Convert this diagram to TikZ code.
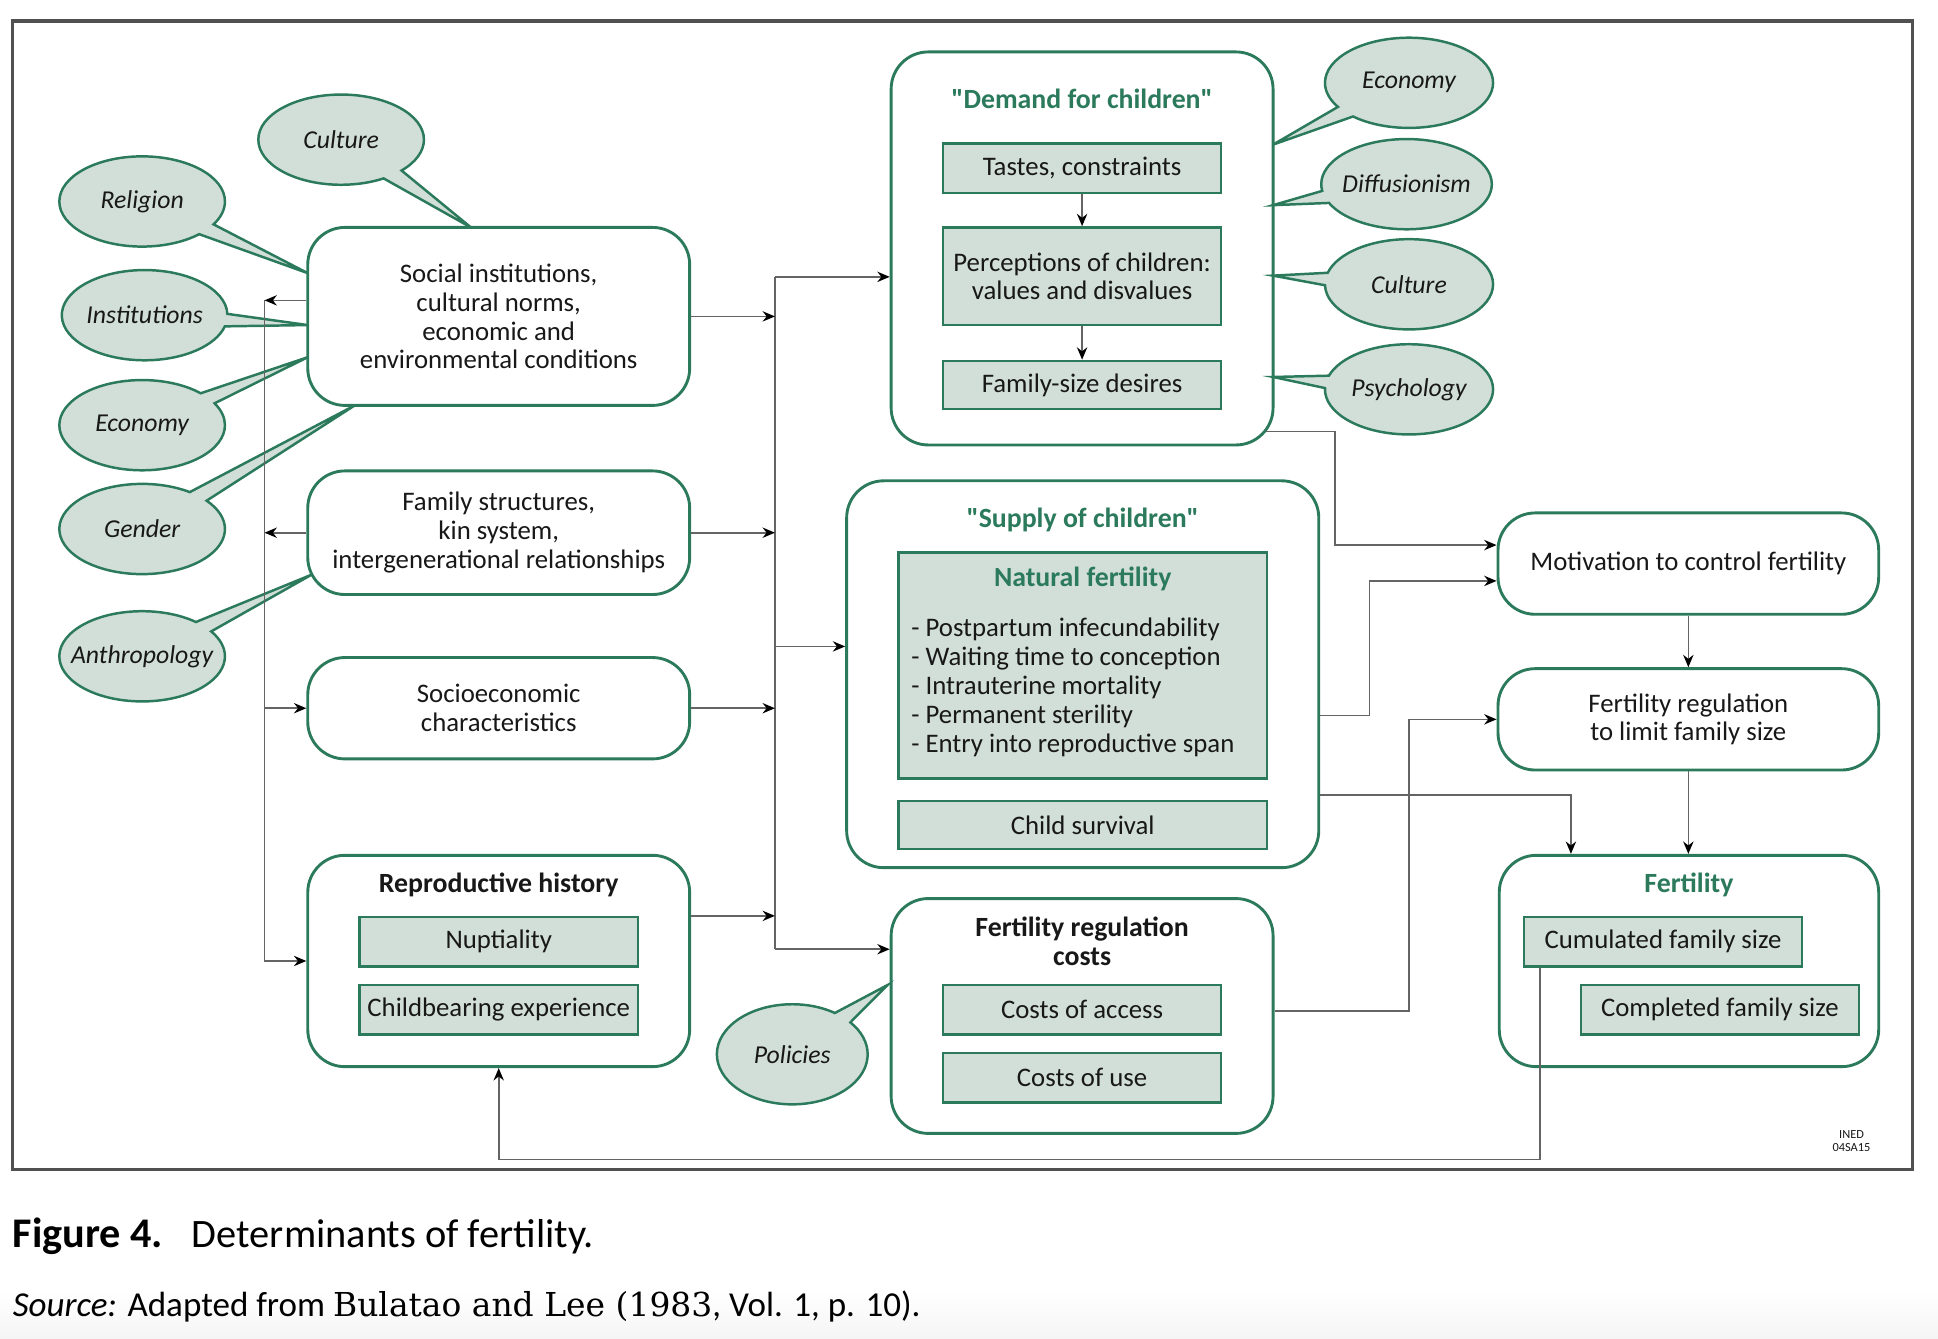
\documentclass[tikz,border=0pt]{standalone}
\usepackage{fontspec}
\setmainfont{Carlito}[Ligatures=TeXOff]
\newfontfamily\capserif{DejaVu Serif}
\usetikzlibrary{shapes.callouts,arrows.meta,calc}
\definecolor{grn}{RGB}{44,122,92}
\definecolor{lfill}{RGB}{210,223,217}
\definecolor{txt}{RGB}{24,24,24}
\definecolor{conncol}{RGB}{100,100,100}
\definecolor{framecol}{RGB}{80,80,80}
\newdimen\U \U=0.6pt
\begin{document}
\begin{tikzpicture}[x=0.6pt,y=-0.6pt,
  every node/.style={text=txt, font=\fontsize{13}{14}\selectfont},
  rbox/.style={draw=grn, line width=1.4pt, fill=white, rounded corners=18pt, inner sep=0pt, align=center},
  ibox/.style={draw=grn, line width=1.2pt, fill=lfill, inner sep=0pt, align=center, minimum width=225\U, minimum height=40\U},
  bubble/.style={ellipse callout, draw=grn, line width=1.2pt, fill=lfill, inner sep=0pt, minimum width=134\U, minimum height=73\U, font=\fontsize{12.5}{14}\selectfont\itshape, callout pointer arc=16},
  ttl/.style={font=\fontsize{13.5}{14}\selectfont\bfseries, inner sep=0pt, align=center},
  gttl/.style={ttl, text=grn},
  conn/.style={draw=conncol, line width=0.8pt},
  arr/.style={conn, -{Stealth[length=6pt,width=5pt,color=black]}},
  frame/.style={draw=framecol, line width=1.5pt}
]
\useasboundingbox[fill=white] (0,0) rectangle (1568,1083);
\shade[top color=white, bottom color=gray!8] (0,1045) rectangle (1568,1083);
\draw[frame] (10,17) rectangle (1547,946);

% ---------- left column boxes
\node[rbox, minimum width=309\U, minimum height=144\U] (social) at (403.5,256) {Social institutions,\\cultural norms,\\economic and\\environmental conditions};
\node[rbox, minimum width=309\U, minimum height=100\U] (family) at (403.5,431) {Family structures,\\kin system,\\intergenerational relationships};
\node[rbox, minimum width=309\U, minimum height=82\U] (socio) at (403.5,573) {Socioeconomic\\characteristics};
\node[rbox, minimum width=309\U, minimum height=171\U] (repro) at (403.5,777.5) {};
\node[ttl] (reproT) at (403.5,716) {Reproductive history};
\node[ibox] (nupt) at (403.5,762) {Nuptiality};
\node[ibox] (childb) at (403.5,817) {Childbearing experience};

% ---------- middle column
\node[rbox, minimum width=309\U, minimum height=318\U] (demand) at (875.5,201) {};
\node[gttl] (demandT) at (875.5,80) {"Demand for children"};
\node[ibox] (tastes) at (875.5,136) {Tastes, constraints};
\node[ibox, minimum height=79\U] (percep) at (875.5,223.5) {Perceptions of children:\\values and disvalues};
\node[ibox, minimum height=39\U] (fsd) at (875.5,311.5) {Family-size desires};

\node[rbox, minimum width=382\U, minimum height=313\U] (supply) at (876,545.5) {};
\node[gttl] (supplyT) at (876,421) {"Supply of children"};
\node[ibox, minimum width=298\U, minimum height=183\U] (natf) at (876,538.5) {};
\node[gttl] (natfT) at (876,468) {Natural fertility};
\node[anchor=west, align=left, inner sep=0pt, font=\fontsize{13}{14.1}\selectfont] (natlist) at (737,556) {- Postpartum infecundability\\- Waiting time to conception\\- Intrauterine mortality\\- Permanent sterility\\- Entry into reproductive span};
\node[ibox, minimum width=298\U, minimum height=39\U] (childs) at (876,667.5) {Child survival};

\node[rbox, minimum width=309\U, minimum height=190\U] (frc) at (875.5,822) {};
\node[ttl] (frcT) at (875.5,761.5) {Fertility regulation\\costs};
\node[ibox] (access) at (875.5,817) {Costs of access};
\node[ibox] (use) at (875.5,872) {Costs of use};

% ---------- right column
\node[rbox, minimum width=308\U, minimum height=82\U] (motiv) at (1366,456) {Motivation to control fertility};
\node[rbox, minimum width=308\U, minimum height=82\U] (freg) at (1366,582) {Fertility regulation\\to limit family size};
\node[rbox, minimum width=307\U, minimum height=171\U] (fert) at (1366.5,777.5) {};
\node[gttl] (fertT) at (1366.5,716) {Fertility};
\node[ibox] (cumul) at (1345.5,762) {Cumulated family size};
\node[ibox] (compl) at (1391.5,817) {Completed family size};

% ---------- callout tips
\coordinate (tCulL) at (381,184);
\coordinate (tRel) at (249,221);
\coordinate (tInst) at (249,263);
\coordinate (tEcoL) at (249,289);
\coordinate (tGen) at (287,328);
\coordinate (tAnth) at (252,465);
\coordinate (tEcoR) at (1030,117);
\coordinate (tDiff) at (1030,166);
\coordinate (tCulR) at (1030,223);
\coordinate (tPsy) at (1030,305);
\coordinate (tPol) at (718,797);

\node[bubble, callout absolute pointer={(tCulL)}] (bCulL) at (276,113) {\makebox[0pt]{Culture}};
\node[bubble, callout absolute pointer={(tRel)}] (bRel) at (115,163) {\makebox[0pt]{Religion}};
\node[bubble, callout absolute pointer={(tInst)}] (bInst) at (117,255) {\makebox[0pt]{Institutions}};
\node[bubble, callout absolute pointer={(tEcoL)}] (bEcoL) at (115,344) {\makebox[0pt]{Economy}};
\node[bubble, callout absolute pointer={(tGen)}] (bGen) at (115,428) {\makebox[0pt]{Gender}};
\node[bubble, callout absolute pointer={(tAnth)}] (bAnth) at (115,531) {\makebox[0pt]{Anthropology}};
\node[bubble, minimum width=136\U, callout absolute pointer={(tEcoR)}] (bEcoR) at (1140,67) {\makebox[0pt]{Economy}};
\node[bubble, minimum width=138\U, callout absolute pointer={(tDiff)}] (bDiff) at (1138,149) {\makebox[0pt]{Diffusionism}};
\node[bubble, minimum width=136\U, callout absolute pointer={(tCulR)}] (bCulR) at (1140,230) {\makebox[0pt]{Culture}};
\node[bubble, minimum width=136\U, callout absolute pointer={(tPsy)}] (bPsy) at (1140,315) {\makebox[0pt]{Psychology}};
\node[bubble, minimum width=122\U, minimum height=81\U, callout absolute pointer={(tPol)}] (bPol) at (641,853) {\makebox[0pt]{Policies}};

% ---------- left bus
\coordinate (busLtop) at (214,243);
\coordinate (busLbot) at (busLtop |- repro.west);
\draw[arr] (social.west |- busLtop) -- (busLtop);
\draw[arr] (family.west) -- (family.west -| busLtop);
\draw[arr] (busLtop) -- (busLbot) -- (repro.west);
\draw[arr] (socio.west -| busLtop) -- (socio.west);

% ---------- middle bus
\coordinate (busMtop) at (627,224);
\coordinate (busMbot) at (627,768);
\coordinate (reproOut) at ([yshift=21.9pt]repro.east);
\coordinate (supIn) at ([yshift=13.5pt]supply.west);
\draw[conn] (busMtop) -- (busMbot);
\draw[arr] (busMtop) -- (busMtop -| demand.west);
\draw[arr] (busMbot) -- (busMbot -| frc.west);
\draw[arr] (supIn -| busMtop) -- (supIn);
\draw[arr] (social.east) -- (social.east -| busMtop);
\draw[arr] (family.east) -- (family.east -| busMtop);
\draw[arr] (socio.east) -- (socio.east -| busMtop);
\draw[arr] (reproOut) -- (reproOut -| busMtop);

% ---------- demand inner arrows
\draw[arr] (tastes) -- (percep);
\draw[arr] (percep) -- (fsd);

% ---------- right side connectors
\coordinate (dOut) at (1024,349);
\coordinate (j1) at (1080,0);
\coordinate (mIn1) at ([yshift=9pt]motiv.west);
\draw[arr] (dOut) -- (dOut -| j1) |- (mIn1);

\coordinate (sOut1) at ([yshift=-20.1pt]supply.east);
\coordinate (j2) at (1108,0);
\coordinate (mIn2) at ([yshift=-8.4pt]motiv.west);
\draw[arr] (sOut1) -- (sOut1 -| j2) |- (mIn2);

\coordinate (sOut2) at ([yshift=-58.5pt]supply.east);
\coordinate (fIn) at ([xshift=-57.3pt]fert.north);
\draw[arr] (sOut2) -| (fIn);

\coordinate (frcOut) at ([yshift=2.4pt]frc.east);
\coordinate (j3) at (1140,0);
\draw[arr] (frcOut) -- (frcOut -| j3) |- (freg.west);

\draw[arr] (motiv.south) -- (motiv.south |- freg.north);
\draw[arr] (freg.south) -- (freg.south |- fert.north);

% ---------- feedback loop
\coordinate (fbStart) at ([xshift=8.4pt]cumul.south west);
\coordinate (fbY) at (0,938);
\draw[arr] (fbStart) -- (fbStart |- fbY) -| (repro.south);

% ---------- small label
\node[font=\fontsize{6}{6.5}\selectfont, align=center, inner sep=0pt] (ined) at (1498,923) {INED\\04SA15};

% ---------- caption
\node[anchor=base west, inner sep=0pt, text=black, font=\fontsize{20.5}{22}\selectfont\bfseries] (figlbl) at (10,1009) {Figure 4.};
\node[anchor=base west, inner sep=0pt, text=black, font=\fontsize{19.6}{22}\selectfont] (figttl) at (155,1009) {Determinants of fertility.};
\node[anchor=base west, inner sep=0pt, text=black, font=\fontsize{17}{20}\selectfont] (src) at (10,1065) {\textit{Source:} Adapted from {\capserif\fontsize{16}{20}\selectfont Bulatao and Lee (1983}, Vol. 1, p. 10).};
\end{tikzpicture}
\end{document}
